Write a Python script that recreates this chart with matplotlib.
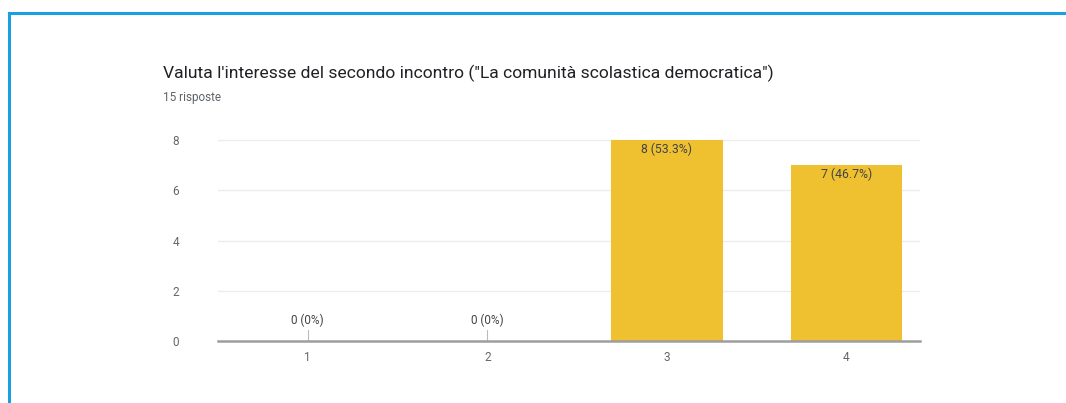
import matplotlib
matplotlib.use("Agg")
import matplotlib.pyplot as plt
from matplotlib.lines import Line2D

categories = ["1", "2", "3", "4"]
values = [0, 0, 8, 7]
labels = ["0 (0%)", "0 (0%)", "8 (53.3%)", "7 (46.7%)"]
yticks = [0, 2, 4, 6, 8]
title = "Valuta l'interesse del secondo incontro (\"La comunità scolastica democratica\")"
subtitle = "15 risposte"

plt.rcParams['font.family'] = ['Roboto', 'DejaVu Sans']

W, H = 1066, 403
fig = plt.figure(figsize=(W / 100, H / 100), dpi=100)
fig.patch.set_facecolor('white')

# blue frame
fig.add_artist(Line2D([8.5 / W, 1], [1 - 12.5 / H, 1 - 12.5 / H], color='#1a9fe0', lw=2.2, transform=fig.transFigure))
fig.add_artist(Line2D([8.5 / W, 8.5 / W], [0, 1 - 12.5 / H], color='#1a9fe0', lw=2.2, transform=fig.transFigure))

fig.text(163 / W, 1 - 73 / H, title, fontsize=12.6, color='#202124', va='center', ha='left')
fig.text(163 / W, 1 - 98 / H, subtitle, fontsize=8.5, color='#5f6368', va='center', ha='left')

ymax = 8.2
px_per_unit = 25.1
ax = fig.add_axes([218 / W, 62 / H, (920 - 218) / W, ymax * px_per_unit / H])
x = [1, 2, 3, 4]
ax.bar(x, values, width=0.62, color='#efc131', zorder=3)
ax.set_xlim(0.5, 4.41)
ax.set_ylim(0, ymax)
ax.set_yticks(yticks)
ax.set_xticks(x)
ax.set_xticklabels(categories)
for s in ['top', 'right', 'left']:
    ax.spines[s].set_visible(False)
ax.spines['bottom'].set_color('#9e9e9e')
ax.spines['bottom'].set_linewidth(1.8)
ax.spines['bottom'].set_zorder(4)
ax.grid(axis='y', color='#ececec', lw=1, zorder=0)
ax.tick_params(axis='both', length=0, labelsize=8.5, labelcolor='#666666')
ax.tick_params(axis='y', pad=28)
ax.tick_params(axis='x', pad=7)

for xi, v, lab in zip(x, values, labels):
    if v == 0:
        ax.text(xi, 0.55, lab, ha='center', va='bottom', fontsize=8.5, color='#444444')
        ax.plot([xi, xi], [0, 0.42], color='#bbbbbb', lw=0.8, zorder=2)
    else:
        ax.text(xi, v - 0.1, lab, ha='center', va='top', fontsize=8.8, color='#444444', zorder=5)

fig.savefig('out.png', dpi=100, facecolor='white')
